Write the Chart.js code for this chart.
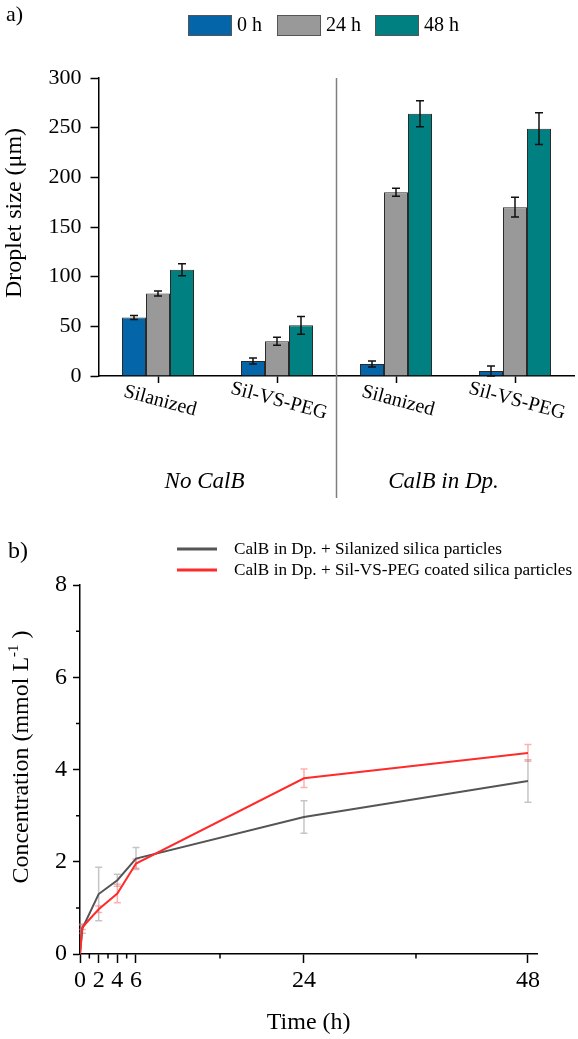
<!DOCTYPE html>
<html><head><meta charset="utf-8">
<script src="https://cdn.jsdelivr.net/npm/chart.js@4.4.1/dist/chart.umd.min.js"></script>
<style>
html,body{margin:0;padding:0;background:#fff;}
#wrap{position:relative;width:578px;height:1039px;background:#fff;}
canvas{position:absolute;left:0;}
#c1{top:0;}
#c2{top:500px;}
</style></head><body>
<div id="wrap"><canvas id="c1" width="578" height="500"></canvas><canvas id="c2" width="578" height="539"></canvas></div>
<script>
const FONT = "'Liberation Serif', 'Times New Roman', serif";

// ---------- Panel a data ----------
const categories = ['Silanized', 'Sil-VS-PEG', 'Silanized', 'Sil-VS-PEG'];
const groupLabels = ['No CalB', 'CalB in Dp.'];
const seriesNames = ['0 h', '24 h', '48 h'];
const size0h  = [59, 15, 12, 5];
const size24h = [83, 35, 185, 170];
const size48h = [107, 51, 264, 249];
const err0h  = [2, 3, 3, 5];
const err24h = [2.5, 4, 4, 10];
const err48h = [6, 9, 13, 16];
const sizeTicks = [0, 50, 100, 150, 200, 250, 300];

// ---------- Panel b data ----------
const timeH = [0, 0.25, 2, 4, 6, 24, 48];
const concSilanized = [0, 0.55, 1.30, 1.60, 2.07, 2.97, 3.75];
const errSilanized  = [0, 0.10, 0.58, 0.13, 0.24, 0.35, 0.46];
const concPEG = [0, 0.58, 0.97, 1.31, 1.96, 3.81, 4.36];
const errPEG  = [0, 0.05, 0.07, 0.20, 0.10, 0.20, 0.18];
const lineNames = ['CalB in Dp. + Silanized silica particles', 'CalB in Dp. + Sil-VS-PEG coated silica particles'];
const timeTicks = [0, 2, 4, 6, 24, 48];
const timeMinorTicks = [1, 3, 5, 15, 36];
const concTicks = [0, 2, 4, 6, 8];
const concMinorTicks = [1, 3, 5, 7];

// ---------- Panel a ----------
const barColors = ['#0565a9', '#999999', '#008080'];
const barData = [size0h, size24h, size48h];
const barErr = [err0h, err24h, err48h];

const panelA = {
  id: 'panelA',
  afterDatasetsDraw(chart) {
    const ctx = chart.ctx, y = chart.scales.y;
    ctx.save();
    ctx.strokeStyle = '#111';
    ctx.lineWidth = 1.5;
    chart.data.datasets.forEach((ds, i) => {
      const meta = chart.getDatasetMeta(i);
      meta.data.forEach((bar, j) => {
        const v = ds.data[j], e = ds.errors[j];
        const y1 = y.getPixelForValue(v + e), y2 = y.getPixelForValue(v - e);
        const x = bar.x;
        ctx.beginPath();
        ctx.moveTo(x, y1); ctx.lineTo(x, y2);
        ctx.moveTo(x - 4, y1); ctx.lineTo(x + 4, y1);
        ctx.moveTo(x - 4, y2); ctx.lineTo(x + 4, y2);
        ctx.stroke();
      });
    });
    ctx.restore();
  },
  afterDraw(chart) {
    const ctx = chart.ctx, xs = chart.scales.x, area = chart.chartArea;
    ctx.save();
    ctx.fillStyle = '#000';
    ctx.font = '22px ' + FONT;
    ctx.textAlign = 'left'; ctx.textBaseline = 'middle';
    ctx.fillText('a)', 6, 15);
    const lx = [188, 277, 375];
    ctx.font = '20px ' + FONT;
    seriesNames.forEach((n, i) => {
      ctx.fillStyle = barColors[i];
      ctx.fillRect(lx[i], 15, 44, 21);
      ctx.strokeStyle = '#555';
      ctx.lineWidth = 1;
      ctx.strokeRect(lx[i] + 0.5, 15.5, 43, 20);
      ctx.fillStyle = '#000';
      ctx.fillText(n, lx[i] + 49, 26);
    });
    ctx.font = '20px ' + FONT;
    ctx.textAlign = 'center'; ctx.textBaseline = 'middle';
    categories.forEach((c, i) => {
      const px = xs.getPixelForTick(i);
      ctx.save();
      ctx.translate(px + 2, 401);
      ctx.rotate(15 * Math.PI / 180);
      ctx.fillText(c, 0, 0);
      ctx.restore();
    });
    ctx.font = 'italic 23px ' + FONT;
    const g0 = (xs.getPixelForTick(0) + xs.getPixelForTick(1)) / 2 - 13;
    const g1 = (xs.getPixelForTick(2) + xs.getPixelForTick(3)) / 2 - 12;
    ctx.fillText(groupLabels[0], g0, 482);
    ctx.fillText(groupLabels[1], g1, 482);
    const dx = (xs.getPixelForTick(1) + xs.getPixelForTick(2)) / 2;
    ctx.strokeStyle = '#7f7f7f';
    ctx.lineWidth = 1.5;
    ctx.beginPath();
    ctx.moveTo(dx, area.top); ctx.lineTo(dx, 498);
    ctx.stroke();
    ctx.font = '24px ' + FONT;
    ctx.translate(15, 213);
    ctx.rotate(-Math.PI / 2);
    ctx.fillText('Droplet size (μm)', 0, 0);
    ctx.restore();
  }
};

new Chart(document.getElementById('c1'), {
  type: 'bar',
  data: {
    labels: categories,
    datasets: seriesNames.map((n, i) => ({
      label: n, data: barData[i], errors: barErr[i],
      backgroundColor: barColors[i], borderColor: '#2a2a2a', borderWidth: 1,
      barPercentage: 1, categoryPercentage: 0.605
    }))
  },
  options: {
    responsive: false, animation: false, events: [],
    layout: { padding: { top: 78, right: 3.5, left: 0, bottom: 0 } },
    plugins: { legend: { display: false }, tooltip: { enabled: false } },
    scales: {
      x: {
        offset: true,
        grid: { display: true, drawOnChartArea: false, drawTicks: true, tickLength: 7, tickColor: '#000', tickWidth: 1.5, offset: false },
        border: { display: true, color: '#000', width: 1.5 },
        ticks: { display: false },
        afterFit(s) { s.height = 124; }
      },
      y: {
        min: 0, max: 300,
        afterBuildTicks(s) { s.ticks = sizeTicks.map(v => ({ value: v })); },
        grid: { drawOnChartArea: false, tickLength: 8, tickColor: '#000', tickWidth: 1.5 },
        border: { color: '#000', width: 1.5 },
        ticks: { font: { family: FONT, size: 22 }, color: '#000', padding: 9 },
        afterFit(s) { s.width = 98.5; }
      }
    }
  },
  plugins: [panelA]
});

// ---------- Panel b ----------
const lineColors = ['#555555', '#ff2b2b'];
const errColors = ['rgba(150,150,150,0.55)', 'rgba(255,110,110,0.55)'];
const concData = [concSilanized, concPEG];
const concErr = [errSilanized, errPEG];

const panelB = {
  id: 'panelB',
  beforeDatasetsDraw(chart) {
    const ctx = chart.ctx, xs = chart.scales.x, ys = chart.scales.y;
    ctx.save();
    ctx.lineWidth = 1.5;
    chart.data.datasets.forEach((ds, i) => {
      ctx.strokeStyle = errColors[i];
      ds.data.forEach((p, j) => {
        const e = ds.errors[j];
        if (!e) return;
        const x = xs.getPixelForValue(p.x);
        const y1 = ys.getPixelForValue(p.y + e), y2 = ys.getPixelForValue(p.y - e);
        ctx.beginPath();
        ctx.moveTo(x, y1); ctx.lineTo(x, y2);
        ctx.moveTo(x - 3.5, y1); ctx.lineTo(x + 3.5, y1);
        ctx.moveTo(x - 3.5, y2); ctx.lineTo(x + 3.5, y2);
        ctx.stroke();
      });
    });
    ctx.restore();
  },
  afterDraw(chart) {
    const ctx = chart.ctx, xs = chart.scales.x, ys = chart.scales.y, area = chart.chartArea;
    ctx.save();
    ctx.strokeStyle = '#000'; ctx.lineWidth = 1.5;
    ctx.beginPath();
    timeMinorTicks.forEach(t => { const px = xs.getPixelForValue(t); ctx.moveTo(px, area.bottom); ctx.lineTo(px, area.bottom + 4.5); });
    concMinorTicks.forEach(v => { const py = ys.getPixelForValue(v); ctx.moveTo(area.left - 4, py); ctx.lineTo(area.left, py); });
    ctx.stroke();
    ctx.fillStyle = '#000';
    ctx.font = '24px ' + FONT;
    ctx.textAlign = 'left'; ctx.textBaseline = 'middle';
    ctx.fillText('b)', 8, 52);
    ctx.font = '17.2px ' + FONT;
    const ly = [49, 70];
    lineNames.forEach((n, i) => {
      ctx.strokeStyle = lineColors[i];
      ctx.lineWidth = 3;
      ctx.beginPath(); ctx.moveTo(177, ly[i]); ctx.lineTo(217, ly[i]); ctx.stroke();
      ctx.fillText(n, 234, ly[i]);
    });
    ctx.translate(22, 257);
    ctx.rotate(-Math.PI / 2);
    const main = 'Concentration (mmol L', sup = '-1', tail = ' )';
    ctx.font = '24px ' + FONT;
    const w1 = ctx.measureText(main).width, w3 = ctx.measureText(tail).width;
    ctx.font = '15px ' + FONT;
    const w2 = ctx.measureText(sup).width;
    const x0 = -(w1 + w2 + w3) / 2;
    ctx.font = '24px ' + FONT;
    ctx.fillText(main, x0, 0);
    ctx.font = '15px ' + FONT;
    ctx.fillText(sup, x0 + w1, -8);
    ctx.font = '24px ' + FONT;
    ctx.fillText(tail, x0 + w1 + w2, 0);
    ctx.restore();
  }
};

new Chart(document.getElementById('c2'), {
  type: 'line',
  data: {
    datasets: lineNames.map((n, i) => ({
      label: n,
      data: timeH.map((t, j) => ({ x: t, y: concData[i][j] })),
      errors: concErr[i],
      order: i === 0 ? 1 : 0,
      borderColor: lineColors[i], backgroundColor: lineColors[i],
      borderWidth: 2, pointRadius: 0, tension: 0, fill: false
    }))
  },
  options: {
    responsive: false, animation: false, events: [],
    layout: { padding: { top: 85, right: 40.7, left: 0, bottom: 0 } },
    plugins: { legend: { display: false }, tooltip: { enabled: false } },
    scales: {
      x: {
        type: 'linear', min: 0, max: 49,
        afterBuildTicks(s) { s.ticks = timeTicks.map(v => ({ value: v })); },
        grid: { drawOnChartArea: false, tickLength: 9, tickColor: '#000', tickWidth: 1.5 },
        border: { color: '#000', width: 1.5 },
        ticks: { font: { family: FONT, size: 24 }, color: '#000', padding: 3, maxRotation: 0, autoSkip: false },
        title: { display: true, text: 'Time (h)', font: { family: FONT, size: 24 }, color: '#000', padding: { top: 0, bottom: 2 } },
        afterFit(s) { s.height = 85; }
      },
      y: {
        min: 0, max: 8,
        afterBuildTicks(s) { s.ticks = concTicks.map(v => ({ value: v })); },
        grid: { drawOnChartArea: false, tickLength: 7, tickColor: '#000', tickWidth: 1.5 },
        border: { color: '#000', width: 1.5 },
        ticks: { font: { family: FONT, size: 24 }, color: '#000', padding: 6 },
        afterFit(s) { s.width = 80; }
      }
    }
  },
  plugins: [panelB]
});
</script>
</body></html>
